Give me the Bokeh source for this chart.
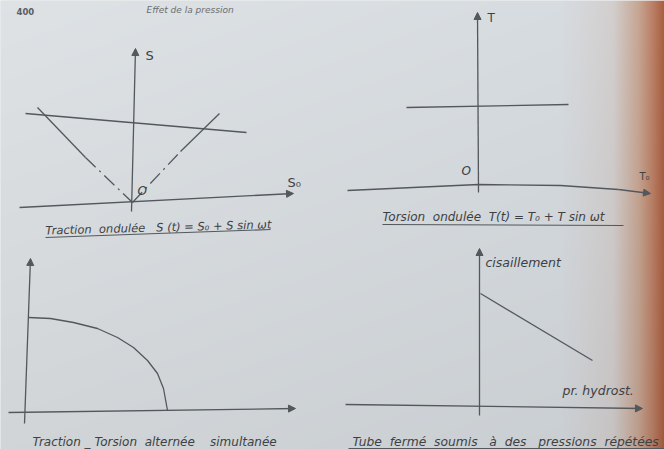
import numpy as np
from bokeh.plotting import figure
from bokeh.models import Range1d, Arrow, NormalHead
from bokeh.core.properties import value
from bokeh.embed import file_html
from bokeh.resources import INLINE

W, H = 664, 449
INK = "#53585d"
TXT = "#3d4144"
FONT = value("DejaVu Sans")
GAP = "\u00a0"

# ---------------- Traction ondulée : S versus S0 ----------------
p1_s0_axis_x = [-1.13, 1.61]
p1_s0_axis_y = [-0.05, 0.09]
p1_s_axis_x = [-0.01, 0.03]
p1_s_axis_y = [-0.09, 1.54]
p1_limit_x = [-1.07, 1.14]
p1_limit_y = [0.89, 0.70]
p1_left_solid_x = [-0.95, -0.47]
p1_left_solid_y = [0.95, 0.45]
p1_left_dash_x = [-0.47, 0.0]
p1_left_dash_y = [0.45, 0.0]
p1_right_dash_x = [0.0, 0.48]
p1_right_dash_y = [0.0, 0.51]
p1_right_solid_x = [0.48, 0.87]
p1_right_solid_y = [0.51, 0.89]
p1_caption = "Traction" + GAP * 2 + "ondulée" + GAP * 3 + "S (t) = S₀ + S sin ωt"

# ---------------- Torsion ondulée : T versus T0 ----------------
p2_t_axis_x = [0.0, -0.01]
p2_t_axis_y = [-0.08, 1.72]
p2_t0_axis_x = [-1.31, 0.0, 0.82, 1.40, 1.72]
p2_t0_axis_y = [-0.06, 0.0, -0.01, -0.05, -0.09]
p2_limit_x = [-0.72, 0.90]
p2_limit_y = [0.77, 0.80]
p2_caption = "Torsion" + GAP * 2 + "ondulée" + GAP * 2 + "T(t) = T₀ + T sin ωt"

# ---------------- Traction - Torsion alternée simultanée ----------------
p3_v_axis_x = [-0.04, 0.02]
p3_v_axis_y = [-0.12, 1.53]
p3_h_axis_x = [-0.20, 2.67]
p3_h_axis_y = [-0.01, 0.03]
p3_curve_x = [0.00, 0.22, 0.45, 0.69, 0.89, 1.05, 1.19, 1.29, 1.35, 1.39]
p3_curve_y = [0.94, 0.93, 0.89, 0.83, 0.74, 0.64, 0.51, 0.38, 0.23, 0.01]
p3_caption = "Traction _ Torsion" + GAP * 2 + "alternée" + GAP * 4 + "simultanée"

# ---------------- Tube fermé : cisaillement versus pression ----------------
p4_v_axis_x = [0.0, 0.0]
p4_v_axis_y = [-0.11, 1.56]
p4_h_axis_x = [-1.34, 1.63]
p4_h_axis_y = [0.0, -0.04]
p4_line_x = [0.01, 1.13]
p4_line_y = [1.11, 0.44]
p4_caption = ("Tube" + GAP * 2 + "fermé" + GAP * 2 + "soumis" + GAP * 3 + "à" + GAP * 2 + "des"
              + GAP * 3 + "pressions" + GAP * 2 + "répétées")

# placement of each diagram's origin on the page (pixels from top-left), 100 px per unit
ORIGINS = {"p1": (132, 202), "p2": (478, 184), "p3": (28, 411), "p4": (479, 404)}
S = 100.0

p = figure(width=W, height=H, x_range=Range1d(0, W), y_range=Range1d(0, H),
           min_border=0, toolbar_location=None, output_backend="svg",
           x_axis_type=None, y_axis_type=None, outline_line_color=None,
           background_fill_color="#d5d9dc", border_fill_color="#d5d9dc")
p.grid.visible = False

for name, (ox, oy) in ORIGINS.items():
    p.extra_x_ranges[name + "x"] = Range1d(-ox / S, (W - ox) / S)
    p.extra_y_ranges[name + "y"] = Range1d((oy - H) / S, oy / S)

# paper shading: grey page darkening into the brown binding shadow on the right
xs = np.arange(W)
stops = [0, 560, 612, 638, 652, 664]
r = np.interp(xs, stops, [218, 211, 207, 195, 183, 164])
g = np.interp(xs, stops, [222, 216, 203, 162, 125, 90])
b = np.interp(xs, stops, [225, 220, 203, 143, 100, 60])
shade = np.linspace(0.96, 1.02, H)[:, None]
img = np.empty((H, W), dtype=np.uint32)
v = img.view(dtype=np.uint8).reshape((H, W, 4))
v[:, :, 0] = np.clip(r[None, :] * shade, 0, 255)
v[:, :, 1] = np.clip(g[None, :] * shade, 0, 255)
v[:, :, 2] = np.clip(b[None, :] * shade, 0, 255)
v[:, :, 3] = 255
p.image_rgba(image=[img], x=0, y=0, dw=W, dh=H)


def rn(k):
    return dict(x_range_name=k + "x", y_range_name=k + "y")


def line(k, x, y, dash="solid", w=1.3):
    p.line(x, y, line_color=INK, line_width=w, line_dash=dash, **rn(k))


def arrow(k, x, y):
    p.add_layout(Arrow(end=NormalHead(size=7, fill_color=INK, line_color=INK, line_width=1),
                       x_start=x[-2], y_start=y[-2], x_end=x[-1], y_end=y[-1],
                       line_color=INK, line_width=1.3, **rn(k)))


def label(k, x, y, t, size="12px", align="left", baseline="middle", angle=0.0, style="italic"):
    p.text([x], [y], text=[t], text_font=FONT, text_font_size=size, text_font_style=style,
           text_color=TXT, text_align=align, text_baseline=baseline, angle=angle, **rn(k))


# page header
p.text([16], [H - 11], text=["400"], text_font=FONT, text_font_size="8.5px", text_font_style="bold",
       text_color="#5a5e61", text_baseline="middle")
p.text([146], [H - 9], text=["Effet de la pression"], text_font=FONT, text_font_size="9px",
       text_font_style="italic", text_color="#6a6e71", text_baseline="alphabetic")

# panel 1
arrow("p1", p1_s0_axis_x, p1_s0_axis_y)
arrow("p1", p1_s_axis_x, p1_s_axis_y)
line("p1", p1_limit_x, p1_limit_y)
line("p1", p1_left_solid_x, p1_left_solid_y)
line("p1", p1_left_dash_x, p1_left_dash_y, dash="14 5 2 5")
line("p1", p1_right_dash_x, p1_right_dash_y, dash="14 5 2 5")
line("p1", p1_right_solid_x, p1_right_solid_y)
label("p1", 0.13, 1.47, "S", size="13px", style="normal")
label("p1", 1.55, 0.20, "S₀", size="13px", style="normal")
label("p1", 0.05, 0.12, "O", size="12px")
label("p1", -0.87, -0.28, p1_caption, size="11.5px", baseline="alphabetic", angle=0.027)
line("p1", [-0.87, 1.38], [-0.35, -0.27], w=1.1)

# panel 2
line("p2", p2_t0_axis_x[:-1], p2_t0_axis_y[:-1])
arrow("p2", p2_t0_axis_x, p2_t0_axis_y)
arrow("p2", p2_t_axis_x, p2_t_axis_y)
line("p2", p2_limit_x, p2_limit_y)
label("p2", 0.09, 1.67, "T", size="12px", style="normal")
label("p2", -0.17, 0.14, "O", size="12px")
label("p2", 1.61, 0.08, "T₀", size="10px", style="normal")
label("p2", -0.96, -0.32, p2_caption, size="12px", baseline="alphabetic")
line("p2", [-0.96, 1.45], [-0.40, -0.41], w=1.1)

# panel 3
arrow("p3", p3_v_axis_x, p3_v_axis_y)
arrow("p3", p3_h_axis_x, p3_h_axis_y)
line("p3", p3_curve_x, p3_curve_y)
label("p3", 0.04, -0.30, p3_caption, size="12px", baseline="alphabetic")

# panel 4
arrow("p4", p4_v_axis_x, p4_v_axis_y)
arrow("p4", p4_h_axis_x, p4_h_axis_y)
line("p4", p4_line_x, p4_line_y)
label("p4", 0.06, 1.42, "cisaillement", size="12.5px")
label("p4", 0.83, 0.14, "pr. hydrost.", size="12.5px")
label("p4", -1.27, -0.375, p4_caption, size="12.3px", baseline="alphabetic")
line("p4", [-1.31, 1.86], [-0.44, -0.44], w=1.1)

open("out.html", "w").write(file_html(p, INLINE))
